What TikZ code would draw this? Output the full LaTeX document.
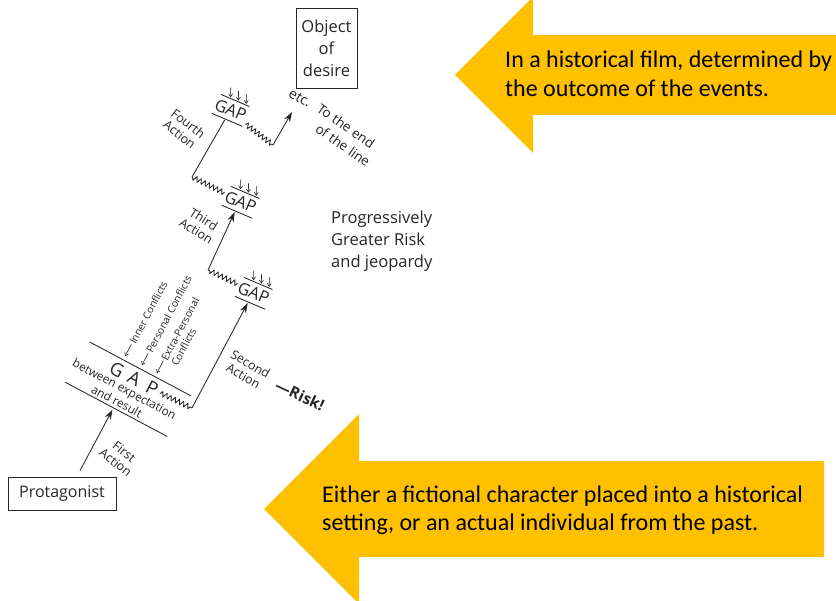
\documentclass[tikz,border=0pt]{standalone}
\usepackage{fontspec}
\setmainfont{Open Sans}
\newfontfamily\calfont{Carlito}
\usetikzlibrary{arrows.meta,decorations.pathmorphing,calc}

\definecolor{inkc}{HTML}{262626}
\definecolor{amber}{HTML}{FFC000}
\newcommand\fsz[2]{\fontsize{#1}{#2}\selectfont}

\tikzset{
  ink/.style={draw=inkc, line width=0.85pt},
  act/.style={ink, -{Stealth[length=10pt,width=6.5pt]}},
  tinyarr/.style={ink, line width=0.6pt, -{Straight Barb[length=3pt,width=4pt]}},
  wig/.style={ink, line join=round, decorate,
    decoration={zigzag, segment length=4.6pt, amplitude=2.6pt, pre length=1pt, post length=1pt}},
  lbl/.style={inner sep=0pt, text=inkc, font=\fsz{12.5}{14}, align=center},
  conf/.style={inner sep=0pt, text=inkc, font=\fsz{10.2}{12}, rotate=90, transform shape, anchor=west},
  boxed/.style={draw=inkc, line width=0.7pt, inner sep=0pt, text=inkc, align=center},
  gaptxt/.style={inner sep=0pt, text=inkc, font=\fsz{16.5}{18}, transform shape},
  callout/.style={inner sep=0pt, text=black, font=\calfont\fsz{24}{28}, anchor=base west},
  pics/smallgap/.style={code={
    \node[gaptxt] (-t) at (0,1) {GAP};
    \draw[ink] (-15,-9.5) -- (16,-9.5);
    \draw[ink] (-16,11.5) -- (17,11.5);
    \foreach \u in {-5,3.5,12}{\draw[tinyarr] (\u-3.6,-19.6) -- (\u,-10.6);}
    \coordinate (-in) at (-1.5,12.6);
    \coordinate (-wl) at (-18,-1);
    \coordinate (-wr) at (19,8);
  }}
}

\begin{document}
\begin{tikzpicture}[x=1pt, y=-1pt]
\useasboundingbox (0,0) rectangle (836,601);
\fill[white] (0,0) rectangle (836,601);

% callout arrows
\begin{scope}
  \clip (0,0) rectangle (836,601);
  \fill[amber] (455,75) -- (533,-3) -- (533,35) -- (840,35) -- (840,115)
    -- (533,115) -- (533,153) -- cycle;
  \fill[amber] (264,509) -- (359,414) -- (359,461) -- (824,461) -- (824,557)
    -- (359,557) -- (359,604) -- cycle;
\end{scope}
\node[callout] (hist1) at (505,68) {In a historical film, determined by};
\node[callout] (hist2) at (505,97) {the outcome of the events.};
\node[callout] (char1) at (322,503) {Either a fictional character placed into a historical};
\node[callout] (char2) at (322,531) {setting, or an actual individual from the past.};

% end points
\node[boxed, minimum width=108pt, minimum height=33pt, font=\fsz{16}{19}] (prot) at (62,493.5) {Protagonist};
\node[boxed, minimum width=61pt, minimum height=80pt, font=\fsz{16.5}{22}] (obj) at (326.5,48) {Object\\of\\desire};

% the first gap, between expectation and result
\begin{scope}[shift={(128,389)}, rotate=-28]
  \draw[ink] (-56,-23.5) -- (59,-23.5);
  \draw[ink] (-59,23.5) -- (57,23.5);
  \node[gaptxt, font=\fsz{18.5}{20}] (gG) at (-19,-12) {G};
  \node[gaptxt, font=\fsz{18.5}{20}] (gA) at (1,-12) {A};
  \node[gaptxt, font=\fsz{18.5}{20}] (gP) at (21,-12) {P};
  \node[lbl, font=\fsz{11.8}{14}, transform shape] (gb1) at (-3,3) {between expectation};
  \node[lbl, font=\fsz{11.8}{14}, transform shape] (gb2) at (-4,16) {and result};
  \draw[tinyarr] (-18,-41) -- (-18,-27.5);
  \draw[tinyarr] (1,-41) -- (1,-27.5);
  \draw[tinyarr] (18,-41) -- (18,-27.5);
  \node[conf] (cin) at (-18,-42.5) {Inner Conflicts};
  \node[conf] (cpe) at (1,-42.5) {Personal Conflicts};
  \node[conf] (cex) at (18,-42.5) {Extra-Personal};
  \node[conf] (cex2) at (29.5,-42.5) {Conflicts};
  \coordinate (g1in) at (-4,25.5);
  \coordinate (g1w) at (30,-11.5);
\end{scope}

% the smaller gaps further up the line
\pic[rotate=-23] (g2) at (254,292) {smallgap};
\pic[rotate=-23] (g3) at (241,201) {smallgap};
\pic[rotate=-23] (g4) at (231,109) {smallgap};

% corners where the wiggles turn into actions
\coordinate (k1) at (192,408);
\coordinate (k2) at (208,270);
\coordinate (k3) at (192,177);
\coordinate (k4) at (273,145);
\coordinate (etcend) at (292,112);

% actions
\draw[act] ($(prot.north)+(18,-6)$) -- (g1in);
\draw[wig] (g1w) -- (k1);
\draw[act] (k1) -- (g2-in);
\draw[wig] (g2-wl) -- (k2);
\draw[act] (k2) -- (g3-in);
\draw[wig] (g3-wl) -- (k3);
\draw[ink] (k3) -- (g4-in);
\draw[wig] (g4-wr) -- (k4);
\draw[act] (k4) -- (etcend);

% action labels
\node[lbl, rotate=-38] (l1) at (120,457) {First\\Action};
\node[lbl, rotate=-30] (l2) at (247,370) {Second\\Action};
\node[lbl, rotate=-32] (l3) at (200,225) {Third\\Action};
\node[lbl, rotate=-38] (l4) at (184,129) {Fourth\\Action};
\node[inner sep=0pt, text=inkc, font=\bfseries\fsz{15.5}{17}, rotate=-25] (risk) at (300,395) {—Risk!};
\node[lbl, font=\fsz{14}{16}, rotate=-30] (etc) at (300,98) {etc.};
\node[lbl, font=\fsz{13.5}{16}, rotate=-35] (end1) at (346,126) {To the end};
\node[lbl, font=\fsz{13.5}{16}, rotate=-35] (end2) at (343,145) {of the line};

\node[inner sep=0pt, text=inkc, anchor=north west, align=left, font=\fsz{16.5}{22}] (prog) at (331,211)
  {Progressively\\Greater Risk\\and jeopardy};
\end{tikzpicture}
\end{document}
